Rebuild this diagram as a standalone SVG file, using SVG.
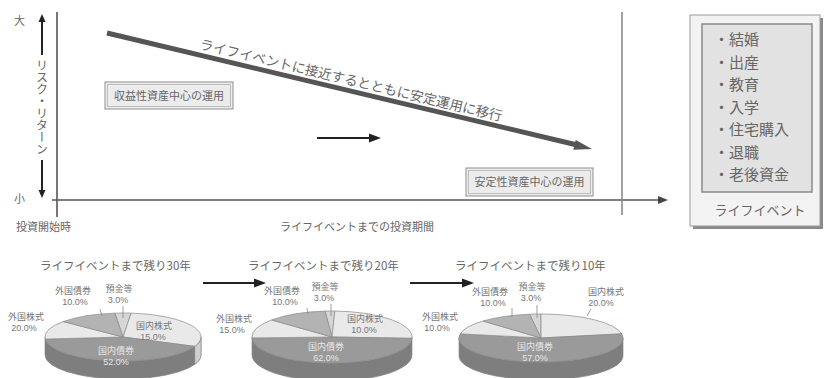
<svg xmlns="http://www.w3.org/2000/svg" width="824" height="378" viewBox="0 0 824 378">
<style>
text{font-family:"Noto Sans CJK JP","Noto Sans",sans-serif;fill:#666}
.ax{stroke:#555;stroke-width:1.6;fill:none}
.blk{stroke:#222;stroke-width:2;fill:none}
.ah{fill:#222}
.lbl{font-size:9px;text-anchor:middle;fill:#777}
.lblw{font-size:9px;text-anchor:middle;fill:#e6e6e6}
.num{font-family:"Liberation Sans",Arial,sans-serif}
.ttl{font-size:11.5px;fill:#666}
.sl{stroke:#8a8a8a;stroke-width:0.7}
.light{fill:#e9e9e9}
.lside{fill:#cfcfcf}
.dark{fill:#9a9a9a}
.dside{fill:#7e7e7e}
.mid{fill:#b3b3b3}
.dep{fill:#d6d6d6}
.lead{stroke:#888;stroke-width:0.8}
.bx{fill:#ececec;stroke:#8f8f8f;stroke-width:1}
.bxi{fill:none;stroke:#bdbdbd;stroke-width:1}
.item{font-size:15px;fill:#666}
</style>

<g id="axes">
  <line class="ax" x1="57" y1="12" x2="57" y2="217"/>
  <line class="ax" x1="52" y1="200" x2="660" y2="200"/>
  <polygon fill="#444" points="668,200 658,196 658,204"/>
  <line x1="622" y1="12" x2="622" y2="215" stroke="#8a8a8a" stroke-width="1.6"/>
  <text x="14" y="25" font-size="11" fill="#888">大</text>
  <text x="14" y="203" font-size="11" fill="#888">小</text>
  <line class="blk" x1="42" y1="20" x2="42" y2="55" stroke-width="1.5"/>
  <polygon class="ah" points="42,14 38.5,22 45.5,22"/>
  <line class="blk" x1="42" y1="160" x2="42" y2="192" stroke-width="1.5"/>
  <polygon class="ah" points="42,198 38.5,190 45.5,190"/>
  <text x="42" y="107" font-size="12" fill="#777" text-anchor="middle" style="writing-mode:vertical-rl">リスク・リターン</text>
  <text x="16" y="231" font-size="11" fill="#666">投資開始時</text>
  <text x="280" y="231" font-size="11" fill="#666">ライフイベントまでの投資期間</text>
</g>

<g id="connectors">
  <line x1="107" y1="33" x2="575" y2="144.5" stroke="#555" stroke-width="5"/>
  <polygon fill="#555" points="592,149 573.3,149.8 575.7,140"/>
  <line class="blk" x1="317" y1="138" x2="370" y2="138"/>
  <polygon class="ah" points="381,138 369,133.5 369,142.5"/>
  <line class="blk" x1="203" y1="283" x2="255" y2="283"/>
  <polygon class="ah" points="266,283 254,278.5 254,287.5"/>
  <line class="blk" x1="410" y1="283" x2="463" y2="283"/>
  <polygon class="ah" points="474,283 462,278.5 462,287.5"/>
</g>

<g id="trend-label">
  <text x="350" y="85" font-size="13.5" fill="#666" text-anchor="middle" transform="rotate(13.5 350 85)">ライフイベントに接近するとともに安定運用に移行</text>
</g>

<g id="box-growth">
  <rect class="bx" x="105" y="82" width="128" height="27"/>
  <rect class="bxi" x="107.5" y="84.5" width="123" height="22"/>
  <text x="169" y="99.5" font-size="11" text-anchor="middle">収益性資産中心の運用</text>
</g>

<g id="box-stable">
  <rect class="bx" x="466" y="168" width="127" height="28"/>
  <rect class="bxi" x="468.5" y="170.5" width="122" height="23"/>
  <text x="529.5" y="186" font-size="11" text-anchor="middle">安定性資産中心の運用</text>
</g>

<g id="life-events">
  <rect x="693" y="18" width="130" height="211" fill="#8a8a8a"/>
  <rect x="690" y="15" width="130" height="211" fill="#f3f3f3" stroke="#999" stroke-width="1"/>
  <rect x="702" y="24" width="110" height="168" fill="#e2e2e2" stroke="#8a8a8a" stroke-width="1.5"/>
  <text class="item" x="714" y="45">・結婚</text>
  <text class="item" x="714" y="67.5">・出産</text>
  <text class="item" x="714" y="90">・教育</text>
  <text class="item" x="714" y="112.5">・入学</text>
  <text class="item" x="714" y="135">・住宅購入</text>
  <text class="item" x="714" y="157.5">・退職</text>
  <text class="item" x="714" y="180">・老後資金</text>
  <text x="760" y="215" font-size="13" fill="#777" text-anchor="middle">ライフイベント</text>
</g>

<g id="pie-30">
  <text class="ttl" x="40" y="270">ライフイベントまで残り30年</text>
  <path class="dside sl" d="M45,337 A78,24 0 0 0 201,337 L201,355 A78,24 0 0 1 45,355 Z"/>
  <path class="lside sl" d="M201,337 A78,24 0 0 1 194.8,346.38 L194.8,364.38 A78,24 0 0 0 201,355 Z"/>
  <path class="dep sl" d="M123,337 L114.85,313.13 A78,24 0 0 1 131.15,313.13 Z"/>
  <path class="light sl" d="M123,337 L131.15,313.13 A78,24 0 0 1 194.8,346.38 Z"/>
  <path class="dark sl" d="M123,337 L194.8,346.38 A78,24 0 0 1 45.3,339.09 Z"/>
  <path class="light sl" d="M123,337 L45.3,339.09 A78,24 0 0 1 63.25,321.57 Z"/>
  <path class="mid sl" d="M123,337 L63.25,321.57 A78,24 0 0 1 114.85,313.13 Z"/>
  <line class="lead" x1="123" y1="306" x2="123" y2="318"/>
  <line class="lead" x1="100" y1="309" x2="102" y2="316"/>
  <text class="lbl" x="73" y="293.5">外国債券</text>
  <text class="lbl num" x="75" y="304.5">10.0%</text>
  <text class="lbl" x="119" y="291.5">預金等</text>
  <text class="lbl num" x="118" y="302.5">3.0%</text>
  <text class="lbl" x="26" y="319.5">外国株式</text>
  <text class="lbl num" x="24" y="330.5">20.0%</text>
  <text class="lbl" x="154" y="328.5">国内株式</text>
  <text class="lbl num" x="153" y="339.5">15.0%</text>
  <text class="lblw" x="116" y="353.5">国内債券</text>
  <text class="lblw num" x="116" y="364.5">52.0%</text>
</g>

<g id="pie-20">
  <text class="ttl" x="248" y="270">ライフイベントまで残り20年</text>
  <path class="dside sl" d="M252,337 A80,26 0 0 0 412,337 L412,355 A80,26 0 0 1 252,355 Z"/>
  <path class="dep sl" d="M332,337 L325.03,311.1 A80,26 0 0 1 334.79,311.02 Z"/>
  <path class="light sl" d="M332,337 L334.79,311.02 A80,26 0 0 1 411.89,338.36 Z"/>
  <path class="dark sl" d="M332,337 L411.89,338.36 A80,26 0 0 1 252.05,337.91 Z"/>
  <path class="light sl" d="M332,337 L252.05,337.91 A80,26 0 0 1 271.62,319.94 Z"/>
  <path class="mid sl" d="M332,337 L271.62,319.94 A80,26 0 0 1 325.03,311.1 Z"/>
  <line class="lead" x1="331" y1="304" x2="331" y2="316"/>
  <line class="lead" x1="307" y1="308" x2="308" y2="314"/>
  <text class="lbl" x="282" y="293.5">外国債券</text>
  <text class="lbl num" x="285" y="304.5">10.0%</text>
  <text class="lbl" x="325" y="289.5">預金等</text>
  <text class="lbl num" x="324" y="300.5">3.0%</text>
  <text class="lbl" x="234" y="321.5">外国株式</text>
  <text class="lbl num" x="232" y="332.5">15.0%</text>
  <text class="lbl" x="365" y="321.5">国内株式</text>
  <text class="lbl num" x="364" y="332.5">10.0%</text>
  <text class="lblw" x="326" y="349.5">国内債券</text>
  <text class="lblw num" x="326" y="360.5">62.0%</text>
</g>

<g id="pie-10">
  <text class="ttl" x="455" y="270">ライフイベントまで残り10年</text>
  <path class="dside sl" d="M459,338 A82,24 0 0 0 623,338 L623,356 A82,24 0 0 1 459,356 Z"/>
  <path class="dep sl" d="M541,338 L529.59,314.23 A82,24 0 0 1 541,314 Z"/>
  <path class="light sl" d="M541,338 L541,314 A82,24 0 0 1 621.75,333.83 Z"/>
  <path class="dark sl" d="M541,338 L621.75,333.83 A82,24 0 1 1 460.25,333.83 Z"/>
  <path class="light sl" d="M541,338 L460.25,333.83 A82,24 0 0 1 483.02,321.03 Z"/>
  <path class="mid sl" d="M541,338 L483.02,321.03 A82,24 0 0 1 529.59,314.23 Z"/>
  <line class="lead" x1="537" y1="305" x2="537" y2="318"/>
  <line class="lead" x1="512" y1="308" x2="512" y2="317"/>
  <line class="lead" x1="591" y1="309" x2="587" y2="316"/>
  <text class="lbl" x="490" y="294.5">外国債券</text>
  <text class="lbl num" x="493" y="305.5">10.0%</text>
  <text class="lbl" x="532" y="289.5">預金等</text>
  <text class="lbl num" x="531" y="300.5">3.0%</text>
  <text class="lbl" x="606" y="294.5">国内株式</text>
  <text class="lbl num" x="601" y="305.5">20.0%</text>
  <text class="lbl" x="440" y="319.5">外国株式</text>
  <text class="lbl num" x="437" y="330.5">10.0%</text>
  <text class="lblw" x="535" y="349.5">国内債券</text>
  <text class="lblw num" x="535" y="360.5">57.0%</text>
</g>
</svg>
